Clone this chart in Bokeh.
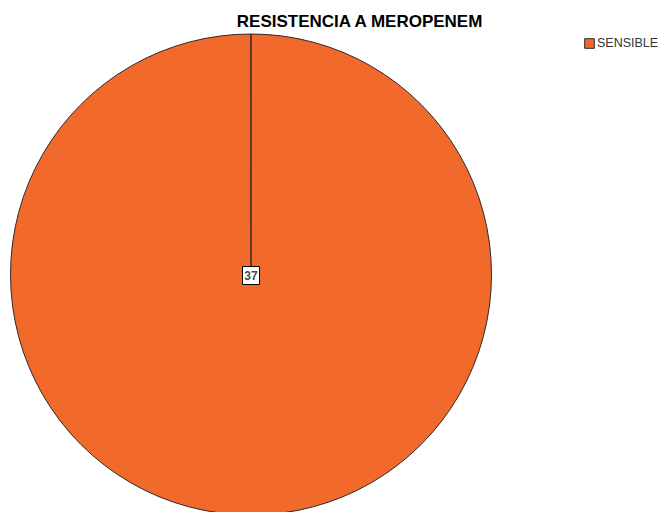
import math
from bokeh.plotting import figure
from bokeh.models import Range1d, Label, Legend, LegendItem, ColumnDataSource
from bokeh.core.properties import value
from bokeh.embed import file_html
from bokeh.resources import INLINE

title = "RESISTENCIA A MEROPENEM"
categories = ["SENSIBLE"]
counts = [37]
colors = ["#F2692C"]

W, H = 667, 512
p = figure(width=W, height=H, output_backend="svg", toolbar_location=None,
           x_range=Range1d(0, W), y_range=Range1d(H, 0), min_border=0)
p.axis.visible = False
p.grid.visible = False
p.outline_line_color = None
p.background_fill_color = "white"
p.border_fill_color = "white"

total = sum(counts)
starts, ends = [], []
acc = 0.0
for c in counts:
    frac = c / total
    a0 = math.pi / 2 + 2 * math.pi * acc
    a1 = math.pi / 2 + 2 * math.pi * (acc + frac)
    if frac >= 1:
        a1 -= 1e-5
    starts.append(a0)
    ends.append(a1)
    acc += frac

cx, cy, r = 250.5, 274, 240.5
src = ColumnDataSource(dict(x=[cx] * len(counts), y=[cy] * len(counts),
                            start=starts, end=ends, color=colors, cat=categories))
wr = p.wedge(x="x", y="y", radius=r, start_angle="start", end_angle="end",
             fill_color="color", line_color="#2b2b2b", line_width=1,
             direction="anticlock", source=src)

lab = ColumnDataSource(dict(x=[cx] * len(counts), y=[cy + 1] * len(counts),
                            t=[str(c) for c in counts]))
p.rect(x="x", y="y", width=17, height=18, width_units="screen",
       height_units="screen", fill_color="white", line_color="black",
       line_width=1, source=lab)
p.text(x="x", y="y", text="t", text_align="center", text_baseline="middle",
       text_font=value("Liberation Sans"), text_font_size="12px",
       text_font_style="bold", text_color="#4a4a4a", source=lab)

p.add_layout(Label(x=360, y=21, text=title, text_align="center",
                   text_baseline="middle", text_font="Liberation Sans",
                   text_font_size="17px", text_font_style="bold",
                   text_color="black"))

legend = Legend(items=[LegendItem(label=categories[i], renderers=[wr], index=i)
                       for i in range(len(categories))],
                location=(583, 462), orientation="vertical",
                label_text_font="Liberation Sans", label_text_font_size="12.5px",
                label_text_color="#333333", glyph_width=12, glyph_height=12,
                label_standoff=2, padding=0, margin=0, spacing=4,
                label_height=12,
                background_fill_alpha=0, border_line_color=None)
p.add_layout(legend)

open("out.html", "w").write(file_html(p, INLINE))
